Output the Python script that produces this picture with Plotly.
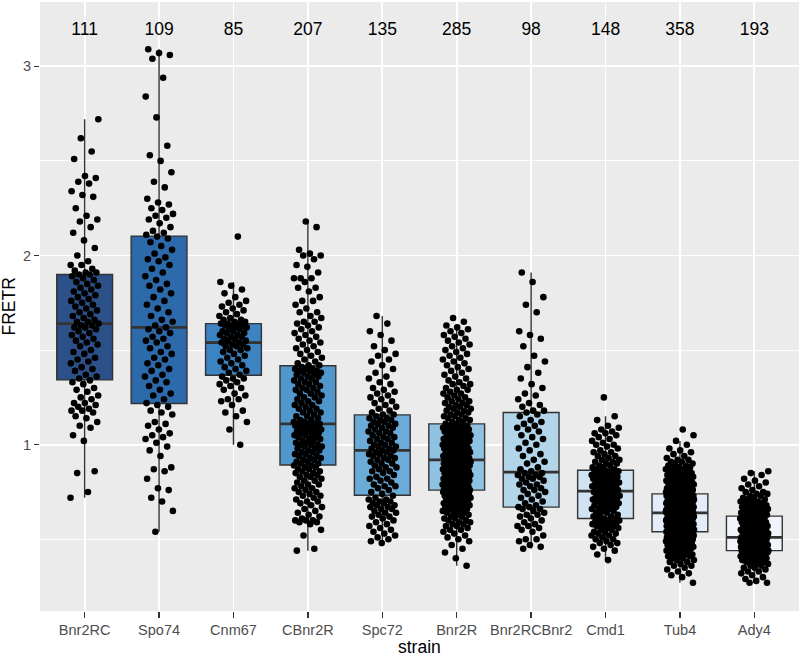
import numpy as np
import plotly.graph_objects as go

strains = ["Bnr2RC", "Spo74", "Cnm67", "CBnr2R", "Spc72",
           "Bnr2R", "Bnr2RCBnr2", "Cmd1", "Tub4", "Ady4"]
counts = [111, 109, 85, 207, 135, 285, 98, 148, 358, 193]

fretr_bnr2rc = [
    0.72, 0.75, 0.85, 0.86, 1.02, 1.05, 1.09, 1.10, 1.12, 1.14,
    1.15, 1.17, 1.18, 1.18, 1.19, 1.20, 1.21, 1.22, 1.22, 1.24,
    1.25, 1.26, 1.28, 1.29, 1.30, 1.32, 1.33, 1.34, 1.35, 1.36,
    1.37, 1.39, 1.40, 1.41, 1.43, 1.44, 1.45, 1.46, 1.48, 1.49,
    1.50, 1.52, 1.53, 1.54, 1.55, 1.56, 1.57, 1.58, 1.59, 1.60,
    1.61, 1.62, 1.62, 1.63, 1.63, 1.64, 1.65, 1.65, 1.66, 1.67,
    1.68, 1.69, 1.70, 1.71, 1.72, 1.73, 1.74, 1.75, 1.76, 1.77,
    1.78, 1.79, 1.80, 1.81, 1.82, 1.83, 1.84, 1.85, 1.86, 1.87,
    1.88, 1.89, 1.90, 1.90, 1.91, 1.91, 1.92, 1.93, 1.95, 1.95,
    1.97, 2.00, 2.04, 2.08, 2.12, 2.15, 2.18, 2.19, 2.21, 2.25,
    2.31, 2.32, 2.34, 2.38, 2.39, 2.41, 2.42, 2.51, 2.55, 2.62,
    2.72]

fretr_spo74 = [
    0.54, 0.65, 0.70, 0.72, 0.76, 0.77, 0.82, 0.86, 0.87, 0.88,
    0.94, 0.97, 0.99, 1.01, 1.03, 1.04, 1.05, 1.06, 1.08, 1.10,
    1.11, 1.12, 1.16, 1.17, 1.18, 1.20, 1.21, 1.22, 1.24, 1.26,
    1.27, 1.29, 1.31, 1.33, 1.34, 1.36, 1.37, 1.39, 1.40, 1.42,
    1.43, 1.45, 1.46, 1.48, 1.49, 1.51, 1.52, 1.54, 1.55, 1.56,
    1.57, 1.59, 1.60, 1.61, 1.62, 1.63, 1.65, 1.66, 1.68, 1.70,
    1.72, 1.74, 1.76, 1.78, 1.80, 1.82, 1.84, 1.85, 1.87, 1.89,
    1.91, 1.93, 1.95, 1.97, 1.98, 1.99, 2.01, 2.03, 2.05, 2.07,
    2.09, 2.10, 2.11, 2.12, 2.13, 2.15, 2.17, 2.19, 2.20, 2.21,
    2.22, 2.24, 2.25, 2.27, 2.28, 2.30, 2.36, 2.39, 2.44, 2.50,
    2.53, 2.58, 2.73, 2.84, 2.94, 3.04, 3.06, 3.07, 3.09]

fretr_cnm67 = [
    1.00, 1.08, 1.12, 1.15, 1.17, 1.18, 1.21, 1.23, 1.24, 1.24,
    1.26, 1.27, 1.29, 1.30, 1.31, 1.32, 1.33, 1.34, 1.35, 1.35,
    1.36, 1.37, 1.38, 1.39, 1.40, 1.41, 1.42, 1.43, 1.44, 1.45,
    1.46, 1.47, 1.48, 1.49, 1.50, 1.50, 1.51, 1.52, 1.52, 1.53,
    1.53, 1.54, 1.54, 1.55, 1.55, 1.56, 1.56, 1.57, 1.57, 1.58,
    1.58, 1.59, 1.59, 1.60, 1.60, 1.61, 1.61, 1.62, 1.62, 1.63,
    1.63, 1.63, 1.64, 1.64, 1.64, 1.65, 1.65, 1.66, 1.66, 1.67,
    1.68, 1.69, 1.70, 1.71, 1.72, 1.73, 1.74, 1.75, 1.76, 1.78,
    1.80, 1.82, 1.84, 1.86, 2.10]

fretr_cbnr2r = [
    0.44, 0.45, 0.52, 0.55, 0.58, 0.59, 0.59, 0.60, 0.60, 0.60,
    0.61, 0.62, 0.63, 0.64, 0.65, 0.66, 0.67, 0.68, 0.69, 0.70,
    0.70, 0.71, 0.72, 0.73, 0.73, 0.74, 0.75, 0.75, 0.76, 0.77,
    0.77, 0.78, 0.79, 0.79, 0.80, 0.81, 0.81, 0.82, 0.83, 0.83,
    0.84, 0.84, 0.85, 0.85, 0.86, 0.86, 0.87, 0.87, 0.88, 0.88,
    0.89, 0.89, 0.90, 0.90, 0.91, 0.91, 0.92, 0.92, 0.93, 0.93,
    0.94, 0.94, 0.95, 0.95, 0.96, 0.96, 0.97, 0.97, 0.98, 0.98,
    0.99, 0.99, 1.00, 1.00, 1.00, 1.01, 1.01, 1.02, 1.02, 1.03,
    1.03, 1.04, 1.04, 1.05, 1.05, 1.05, 1.06, 1.06, 1.07, 1.07,
    1.07, 1.08, 1.08, 1.08, 1.09, 1.09, 1.09, 1.10, 1.10, 1.10,
    1.11, 1.11, 1.11, 1.11, 1.12, 1.12, 1.13, 1.13, 1.14, 1.15,
    1.15, 1.16, 1.17, 1.17, 1.18, 1.19, 1.19, 1.20, 1.21, 1.21,
    1.22, 1.23, 1.23, 1.24, 1.25, 1.25, 1.26, 1.27, 1.27, 1.28,
    1.29, 1.29, 1.30, 1.30, 1.31, 1.32, 1.32, 1.33, 1.33, 1.34,
    1.35, 1.35, 1.36, 1.36, 1.37, 1.37, 1.38, 1.38, 1.39, 1.39,
    1.39, 1.40, 1.40, 1.40, 1.41, 1.42, 1.42, 1.43, 1.44, 1.45,
    1.46, 1.47, 1.48, 1.49, 1.50, 1.51, 1.52, 1.53, 1.54, 1.55,
    1.56, 1.57, 1.58, 1.59, 1.60, 1.61, 1.62, 1.63, 1.64, 1.65,
    1.65, 1.67, 1.68, 1.70, 1.70, 1.72, 1.74, 1.76, 1.76, 1.78,
    1.81, 1.83, 1.83, 1.86, 1.88, 1.88, 1.88, 1.91, 1.94, 1.95,
    1.98, 2.00, 2.00, 2.01, 2.03, 2.15, 2.18]

fretr_spc72 = [
    0.48, 0.49, 0.50, 0.51, 0.52, 0.53, 0.54, 0.55, 0.56, 0.57,
    0.58, 0.59, 0.60, 0.61, 0.62, 0.62, 0.63, 0.64, 0.64, 0.65,
    0.66, 0.66, 0.67, 0.67, 0.68, 0.68, 0.69, 0.69, 0.70, 0.70,
    0.71, 0.71, 0.72, 0.73, 0.74, 0.75, 0.76, 0.77, 0.78, 0.78,
    0.79, 0.80, 0.81, 0.82, 0.82, 0.83, 0.84, 0.85, 0.86, 0.86,
    0.87, 0.88, 0.88, 0.89, 0.90, 0.90, 0.91, 0.92, 0.92, 0.93,
    0.93, 0.94, 0.94, 0.95, 0.95, 0.96, 0.96, 0.97, 0.97, 0.98,
    0.98, 0.99, 0.99, 1.00, 1.00, 1.01, 1.01, 1.02, 1.03, 1.03,
    1.04, 1.04, 1.05, 1.06, 1.06, 1.07, 1.07, 1.08, 1.09, 1.09,
    1.10, 1.10, 1.11, 1.11, 1.12, 1.12, 1.13, 1.13, 1.14, 1.14,
    1.15, 1.16, 1.16, 1.17, 1.18, 1.19, 1.20, 1.21, 1.22, 1.23,
    1.24, 1.25, 1.26, 1.27, 1.28, 1.29, 1.30, 1.32, 1.33, 1.35,
    1.36, 1.38, 1.40, 1.42, 1.44, 1.45, 1.47, 1.48, 1.50, 1.52,
    1.55, 1.58, 1.60, 1.64, 1.68]

fretr_bnr2r = [
    0.36, 0.40, 0.43, 0.45, 0.47, 0.49, 0.50, 0.51, 0.52, 0.53,
    0.54, 0.55, 0.55, 0.56, 0.57, 0.57, 0.58, 0.58, 0.59, 0.59,
    0.60, 0.60, 0.61, 0.61, 0.62, 0.62, 0.63, 0.63, 0.64, 0.64,
    0.64, 0.65, 0.65, 0.66, 0.66, 0.66, 0.67, 0.67, 0.67, 0.68,
    0.68, 0.68, 0.69, 0.69, 0.69, 0.70, 0.70, 0.70, 0.71, 0.71,
    0.71, 0.72, 0.72, 0.72, 0.72, 0.73, 0.73, 0.73, 0.73, 0.74,
    0.74, 0.74, 0.74, 0.75, 0.75, 0.75, 0.75, 0.75, 0.76, 0.76,
    0.76, 0.76, 0.76, 0.76, 0.76, 0.77, 0.77, 0.77, 0.77, 0.78,
    0.78, 0.78, 0.78, 0.79, 0.79, 0.79, 0.79, 0.80, 0.80, 0.80,
    0.80, 0.80, 0.81, 0.81, 0.81, 0.81, 0.81, 0.82, 0.82, 0.82,
    0.82, 0.83, 0.83, 0.83, 0.83, 0.83, 0.84, 0.84, 0.84, 0.84,
    0.85, 0.85, 0.85, 0.85, 0.85, 0.86, 0.86, 0.86, 0.86, 0.87,
    0.87, 0.87, 0.87, 0.87, 0.88, 0.88, 0.88, 0.88, 0.89, 0.89,
    0.89, 0.89, 0.89, 0.90, 0.90, 0.90, 0.90, 0.91, 0.91, 0.91,
    0.91, 0.91, 0.92, 0.92, 0.92, 0.92, 0.92, 0.93, 0.93, 0.93,
    0.93, 0.94, 0.94, 0.94, 0.94, 0.95, 0.95, 0.95, 0.95, 0.96,
    0.96, 0.96, 0.96, 0.97, 0.97, 0.97, 0.97, 0.98, 0.98, 0.98,
    0.98, 0.99, 0.99, 0.99, 0.99, 1.00, 1.00, 1.00, 1.00, 1.01,
    1.01, 1.01, 1.01, 1.02, 1.02, 1.02, 1.02, 1.03, 1.03, 1.03,
    1.03, 1.04, 1.04, 1.04, 1.04, 1.05, 1.05, 1.05, 1.06, 1.06,
    1.06, 1.07, 1.07, 1.07, 1.08, 1.08, 1.08, 1.09, 1.09, 1.09,
    1.10, 1.10, 1.10, 1.11, 1.11, 1.12, 1.12, 1.13, 1.13, 1.14,
    1.14, 1.15, 1.15, 1.16, 1.16, 1.17, 1.17, 1.18, 1.18, 1.19,
    1.19, 1.20, 1.20, 1.21, 1.21, 1.22, 1.22, 1.23, 1.23, 1.24,
    1.25, 1.25, 1.26, 1.27, 1.27, 1.28, 1.29, 1.29, 1.30, 1.31,
    1.32, 1.32, 1.33, 1.34, 1.35, 1.36, 1.37, 1.38, 1.39, 1.40,
    1.41, 1.42, 1.43, 1.44, 1.45, 1.46, 1.47, 1.48, 1.49, 1.50,
    1.51, 1.52, 1.53, 1.54, 1.55, 1.56, 1.57, 1.58, 1.59, 1.60,
    1.61, 1.62, 1.63, 1.65, 1.67]

fretr_bnr2rcbnr2 = [
    0.45, 0.46, 0.47, 0.49, 0.50, 0.50, 0.52, 0.54, 0.55, 0.56,
    0.57, 0.57, 0.58, 0.59, 0.60, 0.61, 0.62, 0.63, 0.63, 0.64,
    0.65, 0.66, 0.66, 0.67, 0.67, 0.68, 0.69, 0.70, 0.71, 0.72,
    0.73, 0.74, 0.75, 0.76, 0.76, 0.77, 0.78, 0.79, 0.79, 0.80,
    0.81, 0.82, 0.82, 0.83, 0.83, 0.84, 0.84, 0.85, 0.85, 0.86,
    0.87, 0.88, 0.90, 0.91, 0.92, 0.94, 0.95, 0.97, 0.98, 1.00,
    1.01, 1.03, 1.04, 1.05, 1.07, 1.08, 1.09, 1.10, 1.11, 1.12,
    1.13, 1.15, 1.16, 1.17, 1.18, 1.18, 1.20, 1.21, 1.22, 1.24,
    1.26, 1.27, 1.30, 1.32, 1.35, 1.38, 1.41, 1.44, 1.47, 1.52,
    1.56, 1.58, 1.60, 1.70, 1.74, 1.78, 1.86, 1.91]

fretr_cmd1 = [
    0.39, 0.42, 0.44, 0.45, 0.46, 0.47, 0.48, 0.48, 0.49, 0.50,
    0.50, 0.51, 0.52, 0.52, 0.53, 0.53, 0.54, 0.54, 0.55, 0.55,
    0.56, 0.56, 0.57, 0.57, 0.57, 0.58, 0.58, 0.58, 0.59, 0.59,
    0.59, 0.60, 0.60, 0.60, 0.60, 0.61, 0.61, 0.61, 0.62, 0.62,
    0.63, 0.63, 0.64, 0.64, 0.65, 0.65, 0.66, 0.66, 0.66, 0.67,
    0.67, 0.68, 0.68, 0.68, 0.69, 0.69, 0.70, 0.70, 0.70, 0.71,
    0.71, 0.71, 0.72, 0.72, 0.72, 0.73, 0.73, 0.73, 0.74, 0.74,
    0.74, 0.75, 0.75, 0.75, 0.76, 0.76, 0.76, 0.77, 0.77, 0.77,
    0.78, 0.78, 0.78, 0.79, 0.79, 0.79, 0.80, 0.80, 0.80, 0.81,
    0.81, 0.81, 0.82, 0.82, 0.82, 0.83, 0.83, 0.83, 0.83, 0.84,
    0.84, 0.84, 0.84, 0.85, 0.85, 0.85, 0.85, 0.86, 0.86, 0.86,
    0.86, 0.87, 0.87, 0.88, 0.88, 0.89, 0.89, 0.90, 0.90, 0.91,
    0.91, 0.92, 0.92, 0.93, 0.94, 0.94, 0.95, 0.96, 0.96, 0.97,
    0.98, 0.99, 1.00, 1.00, 1.01, 1.02, 1.03, 1.04, 1.05, 1.06,
    1.06, 1.07, 1.08, 1.09, 1.10, 1.13, 1.15, 1.25]

fretr_tub4 = [
    0.27, 0.30, 0.31, 0.32, 0.33, 0.34, 0.35, 0.36, 0.36, 0.37,
    0.38, 0.38, 0.39, 0.39, 0.40, 0.40, 0.41, 0.41, 0.41, 0.42,
    0.42, 0.42, 0.43, 0.43, 0.43, 0.44, 0.44, 0.44, 0.44, 0.45,
    0.45, 0.45, 0.45, 0.46, 0.46, 0.46, 0.46, 0.47, 0.47, 0.47,
    0.47, 0.47, 0.48, 0.48, 0.48, 0.48, 0.48, 0.49, 0.49, 0.49,
    0.49, 0.49, 0.50, 0.50, 0.50, 0.50, 0.50, 0.50, 0.51, 0.51,
    0.51, 0.51, 0.51, 0.51, 0.52, 0.52, 0.52, 0.52, 0.52, 0.52,
    0.52, 0.53, 0.53, 0.53, 0.53, 0.53, 0.53, 0.53, 0.53, 0.54,
    0.54, 0.54, 0.54, 0.54, 0.54, 0.54, 0.54, 0.54, 0.54, 0.54,
    0.54, 0.54, 0.54, 0.54, 0.54, 0.55, 0.55, 0.55, 0.55, 0.55,
    0.55, 0.55, 0.55, 0.56, 0.56, 0.56, 0.56, 0.56, 0.56, 0.56,
    0.56, 0.57, 0.57, 0.57, 0.57, 0.57, 0.57, 0.57, 0.57, 0.58,
    0.58, 0.58, 0.58, 0.58, 0.58, 0.58, 0.58, 0.59, 0.59, 0.59,
    0.59, 0.59, 0.59, 0.59, 0.59, 0.60, 0.60, 0.60, 0.60, 0.60,
    0.60, 0.60, 0.60, 0.61, 0.61, 0.61, 0.61, 0.61, 0.61, 0.61,
    0.61, 0.61, 0.62, 0.62, 0.62, 0.62, 0.62, 0.62, 0.62, 0.62,
    0.62, 0.63, 0.63, 0.63, 0.63, 0.63, 0.63, 0.63, 0.63, 0.63,
    0.64, 0.64, 0.64, 0.64, 0.64, 0.64, 0.64, 0.64, 0.64, 0.64,
    0.64, 0.64, 0.64, 0.64, 0.64, 0.64, 0.64, 0.65, 0.65, 0.65,
    0.65, 0.65, 0.65, 0.65, 0.65, 0.65, 0.66, 0.66, 0.66, 0.66,
    0.66, 0.66, 0.66, 0.66, 0.66, 0.67, 0.67, 0.67, 0.67, 0.67,
    0.67, 0.67, 0.67, 0.67, 0.68, 0.68, 0.68, 0.68, 0.68, 0.68,
    0.68, 0.68, 0.68, 0.69, 0.69, 0.69, 0.69, 0.69, 0.69, 0.69,
    0.69, 0.69, 0.70, 0.70, 0.70, 0.70, 0.70, 0.70, 0.70, 0.70,
    0.70, 0.71, 0.71, 0.71, 0.71, 0.71, 0.71, 0.71, 0.71, 0.71,
    0.72, 0.72, 0.72, 0.72, 0.72, 0.72, 0.72, 0.72, 0.72, 0.73,
    0.73, 0.73, 0.73, 0.73, 0.73, 0.73, 0.73, 0.73, 0.74, 0.74,
    0.74, 0.74, 0.74, 0.74, 0.74, 0.75, 0.75, 0.75, 0.75, 0.75,
    0.75, 0.75, 0.76, 0.76, 0.76, 0.76, 0.76, 0.76, 0.76, 0.77,
    0.77, 0.77, 0.77, 0.77, 0.77, 0.78, 0.78, 0.78, 0.78, 0.78,
    0.78, 0.79, 0.79, 0.79, 0.79, 0.79, 0.80, 0.80, 0.80, 0.80,
    0.80, 0.81, 0.81, 0.81, 0.81, 0.81, 0.82, 0.82, 0.82, 0.82,
    0.83, 0.83, 0.83, 0.83, 0.84, 0.84, 0.84, 0.84, 0.85, 0.85,
    0.85, 0.86, 0.86, 0.86, 0.87, 0.87, 0.87, 0.88, 0.88, 0.88,
    0.89, 0.89, 0.90, 0.90, 0.91, 0.91, 0.92, 0.92, 0.93, 0.94,
    0.95, 0.96, 0.97, 0.98, 1.00, 1.02, 1.05, 1.08]

fretr_ady4 = [
    0.27, 0.27, 0.28, 0.29, 0.30, 0.31, 0.32, 0.33, 0.33, 0.34,
    0.35, 0.35, 0.36, 0.36, 0.37, 0.37, 0.38, 0.38, 0.38, 0.39,
    0.39, 0.39, 0.40, 0.40, 0.40, 0.40, 0.41, 0.41, 0.41, 0.41,
    0.42, 0.42, 0.42, 0.42, 0.42, 0.43, 0.43, 0.43, 0.43, 0.43,
    0.44, 0.44, 0.44, 0.44, 0.44, 0.44, 0.44, 0.44, 0.44, 0.45,
    0.45, 0.45, 0.45, 0.45, 0.45, 0.45, 0.46, 0.46, 0.46, 0.46,
    0.46, 0.46, 0.46, 0.47, 0.47, 0.47, 0.47, 0.47, 0.47, 0.47,
    0.48, 0.48, 0.48, 0.48, 0.48, 0.48, 0.48, 0.49, 0.49, 0.49,
    0.49, 0.49, 0.49, 0.49, 0.50, 0.50, 0.50, 0.50, 0.50, 0.50,
    0.51, 0.51, 0.51, 0.51, 0.51, 0.51, 0.51, 0.52, 0.52, 0.52,
    0.52, 0.52, 0.53, 0.53, 0.53, 0.53, 0.53, 0.54, 0.54, 0.54,
    0.54, 0.54, 0.55, 0.55, 0.55, 0.55, 0.55, 0.56, 0.56, 0.56,
    0.56, 0.57, 0.57, 0.57, 0.57, 0.58, 0.58, 0.58, 0.58, 0.59,
    0.59, 0.59, 0.59, 0.60, 0.60, 0.60, 0.60, 0.61, 0.61, 0.61,
    0.61, 0.62, 0.62, 0.62, 0.62, 0.63, 0.63, 0.63, 0.63, 0.64,
    0.64, 0.64, 0.64, 0.65, 0.65, 0.65, 0.65, 0.66, 0.66, 0.66,
    0.66, 0.67, 0.67, 0.67, 0.68, 0.68, 0.68, 0.69, 0.69, 0.69,
    0.70, 0.70, 0.70, 0.71, 0.71, 0.72, 0.72, 0.73, 0.73, 0.74,
    0.74, 0.75, 0.75, 0.76, 0.77, 0.78, 0.79, 0.80, 0.81, 0.82,
    0.84, 0.85, 0.86]

groups = [fretr_bnr2rc, fretr_spo74, fretr_cnm67, fretr_cbnr2r, fretr_spc72,
          fretr_bnr2r, fretr_bnr2rcbnr2, fretr_cmd1, fretr_tub4, fretr_ady4]
assert [len(g) for g in groups] == counts, [len(g) for g in groups]

# styling
fills = ["#2C5088", "#2D6AAB", "#3C83C2", "#5097CE", "#6BABD8",
         "#8FC2E1", "#B3D5EA", "#D0E3F3", "#E2EDF8", "#F1F5FB"]
box_width = 0.75
jitter_half = 0.19
label_y = 3.19
FONT = "Liberation Sans, Arial, Helvetica, sans-serif"

fig = go.Figure()
positions = list(range(len(strains)))

for i, vals in enumerate(groups):
    v = np.asarray(vals, dtype=float)
    fig.add_trace(go.Box(
        y=v, x=np.full(len(v), positions[i]), width=box_width,
        boxpoints="outliers", marker=dict(opacity=0, size=1),
        fillcolor=fills[i], line=dict(color="#333333", width=1.4),
        whiskerwidth=0, quartilemethod="linear",
        hoverinfo="skip", showlegend=False))

for i, vals in enumerate(groups):
    med = float(np.median(vals))
    fig.add_trace(go.Scatter(
        x=[positions[i] - box_width / 2, positions[i] + box_width / 2],
        y=[med, med], mode="lines",
        line=dict(color="#333333", width=2.8),
        hoverinfo="skip", showlegend=False))

for i, vals in enumerate(groups):
    v = np.asarray(vals, dtype=float)
    k = np.arange(len(v))
    off = ((k * 0.6180339887 + i * 0.37) % 1.0 - 0.5) * 2 * jitter_half
    fig.add_trace(go.Scatter(
        x=positions[i] + off, y=v, mode="markers",
        marker=dict(color="#000000", size=6.6, line=dict(width=0)),
        hoverinfo="skip", showlegend=False))

fig.add_trace(go.Scatter(
    x=positions, y=[label_y] * len(positions), mode="text",
    text=[str(c) for c in counts],
    textfont=dict(family=FONT, size=17.5, color="#000000"),
    hoverinfo="skip", showlegend=False))

fig.update_layout(
    width=800, height=656,
    margin=dict(l=40, r=1, t=2, b=45),
    paper_bgcolor="white", plot_bgcolor="#EBEBEB",
    font=dict(family=FONT, color="#000000"),
    showlegend=False,
    xaxis=dict(
        type="linear", range=[-0.6, 9.6],
        tickmode="array", tickvals=positions, ticktext=strains,
        showgrid=True, gridcolor="white", gridwidth=1.8,
        zeroline=False, showline=False,
        ticks="outside", ticklen=6, tickwidth=1.4, tickcolor="#333333",
        tickfont=dict(family=FONT, size=14.5, color="#4D4D4D"),
    ),
    yaxis=dict(
        range=[0.121, 3.34],
        tickmode="array", tickvals=[1, 2, 3], ticktext=["1", "2", "3"],
        showgrid=True, gridcolor="white", gridwidth=1.8,
        zeroline=False, showline=False,
        ticks="outside", ticklen=5, tickwidth=1.4, tickcolor="#333333",
        tickfont=dict(family=FONT, size=14.5, color="#4D4D4D"),
        minor=dict(tickmode="array", tickvals=[0.5, 1.5, 2.5],
                   showgrid=True, gridcolor="white", gridwidth=0.9,
                   ticks=""),
    ),
    annotations=[
        dict(text="strain", xref="paper", yref="paper", x=0.5, y=0,
             xanchor="center", yanchor="middle", yshift=-36,
             showarrow=False, font=dict(family=FONT, size=17.5, color="#000000")),
        dict(text="FRETR", xref="paper", yref="paper", x=0, y=0.5,
             xanchor="center", yanchor="middle", xshift=-32, textangle=-90,
             showarrow=False, font=dict(family=FONT, size=17.5, color="#000000")),
    ],
)

fig.write_html(
    "out.html",
    config={"displayModeBar": False, "staticPlot": True},
    post_script="document.body.style.margin='0';document.body.style.padding='0';document.body.style.overflow='hidden';",
)
